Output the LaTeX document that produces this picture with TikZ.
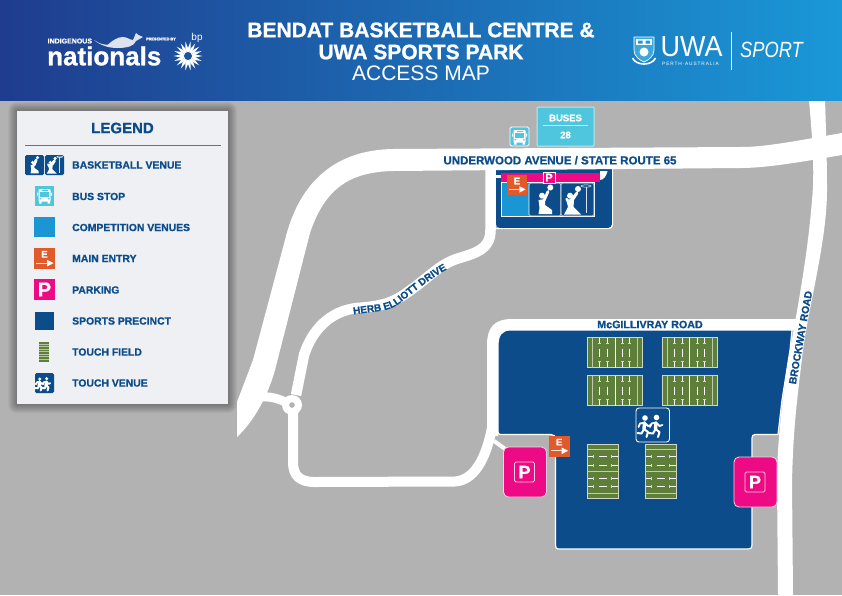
\documentclass[tikz,border=0pt]{standalone}
\usepackage{fontspec}
\usepackage{graphicx}
\usetikzlibrary{decorations.text}
\setmainfont{Liberation Sans}[BoldFeatures={FakeBold=1}]
\definecolor{navy}{HTML}{0D4C8B}
\definecolor{ground}{HTML}{B2B2B2}
\definecolor{compblue}{HTML}{1A96D5}
\definecolor{pinkp}{HTML}{EE0A84}
\definecolor{orangee}{HTML}{E05A2B}
\definecolor{cyanbus}{HTML}{4FC6DE}
\definecolor{turf}{HTML}{5E7F3A}
\definecolor{panel}{HTML}{EEF0F3}
\definecolor{hdl}{HTML}{1F3C8E}
\definecolor{hdr}{HTML}{1A98D7}
\tikzset{
  maplabel/.style={font=\bfseries\fontsize{#1}{#1}\selectfont,text=navy,inner sep=0pt},
  legendtext/.style={font=\bfseries\fontsize{10.4}{11}\selectfont,text=navy,anchor=west,inner sep=0pt},
  headtext/.style={text=white,inner sep=0pt},
  road/.style={draw=white,line width=#1,line cap=butt,line join=round},
  fieldline/.style={draw=white,line width=0.65pt},
  fieldfaint/.style={draw=white!60!turf,line width=0.8pt},
  fieldtick/.style={draw=white!70!turf,line width=0.4pt},
  fig/.style={fill=white,draw=none},
  limb/.style={draw=white,line width=#1,line cap=round,line join=round},
  kneeler/.pic={
    \fill[fig] (21.3,4.5) circle (3);
    \fill[fig] (13,12.7) circle (3);
    \draw[limb=2.8] (15,17.5) -- (19,8.5);
    \fill[fig] (9.5,17) -- (16,16) -- (16,22) -- (23,27) -- (23,31) -- (9.5,31) -- (10.5,25) -- cycle;
  },
  shooter/.pic={
    \fill[fig] (17,6) circle (3);
    \fill[fig] (9,12.7) circle (3);
    \draw[limb=2.8] (12,16) -- (16,10);
    \draw[limb=2.4] (5.5,16) -- (8,19.5) -- (15,11);
    \fill[fig] (5,16) -- (13,17) -- (12.5,24) -- (20,31.5) -- (3,31.5) -- (7,24) -- cycle;
    \draw[white,line width=0.5pt] (25,3) ellipse (5 and 1.2);
    \draw[white!85!navy,line width=0.8pt] (25,4) -- (25,30);
  },
  runners/.pic={
    \fill[fig] (8,10) circle (2.8);
    \fill[fig] (19.5,9.5) circle (2.8);
    \foreach \d in {0,11.5}{
      \begin{scope}[xshift=\d pt]
      \draw[limb=3.4] (7.5,15) -- (7,21);
      \draw[limb=1.8] (7.5,14.5) -- (3,15.5) -- (1.5,19);
      \draw[limb=1.8] (7.5,14.5) -- (11,18) -- (14,17);
      \draw[limb=2] (7,21) -- (11,24) -- (9.5,29);
      \draw[limb=2] (7,21) -- (4.5,25.5) -- (0.5,25);
      \end{scope}}
  },
  busicon/.pic={
    \fill[rounded corners=1pt,fill=white] (4,3) rectangle (16,15.5);
    \fill[cyanbus] (5.5,6) rectangle (14.5,10.5);
    \fill[cyanbus] (7,4) rectangle (13,4.8);
    \fill[cyanbus] (5.7,12.8) circle (0.9) (14.3,12.8) circle (0.9);
    \fill[white] (4.5,15) rectangle (7,17.5) (13,15) rectangle (15.5,17.5);
    \fill[white] (2.5,6.5) rectangle (3.6,9.5) (16.4,6.5) rectangle (17.5,9.5);
  },
  hfield/.pic={
    \fill[turf] (0,0) rectangle (55,30);
    \draw[white!70!turf,line width=0.8pt] (0,0) rectangle (55,30);
    \foreach \x in {5,50}{\draw[fieldfaint] (\x,0) -- (\x,30);}
    \draw[fieldline] (27.5,0) -- (27.5,30);
    \foreach \x in {12,20,35,42}{
      \draw[fieldline] (\x,0.5) -- (\x,6);
      \draw[fieldline] (\x,11) -- (\x,19);
      \draw[fieldline] (\x,24) -- (\x,29.5);
      \draw[fieldtick] (\x-1.5,6) -- (\x+1.5,6) (\x-1.5,24) -- (\x+1.5,24);
    }
  },
  vfield/.pic={
    \fill[turf] (0,0) rectangle (30.5,54);
    \draw[white!70!turf,line width=0.8pt] (0,0) rectangle (30.5,54);
    \foreach \y in {5,27,49}{\draw[fieldfaint] (0,\y) -- (30.5,\y);}
    \foreach \y in {12,21,34,42}{
      \draw[fieldline] (0.5,\y) -- (6,\y);
      \draw[fieldline] (11,\y) -- (19,\y);
      \draw[fieldline] (24,\y) -- (30,\y);
      \draw[fieldtick] (6,\y-1.5) -- (6,\y+1.5) (24,\y-1.5) -- (24,\y+1.5);
    }
  },
  miniturf/.pic={
    \fill[turf] (0,0) rectangle (10,20);
    \foreach \y in {2,4.5,7,9.5,12,14.5,17}{\draw[white!55!turf,line width=0.4pt] (0,\y) -- (10,\y);}
  },
}
% name, x, y, size, letter size
\newcommand\entrysign[5]{%
  \fill[orangee] (#2,#3) rectangle +(#4,#4);
  \node[headtext,font=\bfseries\fontsize{#5}{10}\selectfont] (#1) at (#2+#4*0.5,#3+#4*0.3) {E};
  \draw[white!85!orangee,line width=0.7pt] (#2+#4*0.1,#3+#4*0.72) -- (#2+#4*0.72,#3+#4*0.72);
  \fill[white] (#2+#4*0.62,#3+#4*0.56) -- (#2+#4*0.93,#3+#4*0.72) -- (#2+#4*0.62,#3+#4*0.88) -- cycle;
}
\newcommand\parksign[5]{%
  \fill[pinkp] (#2,#3) rectangle +(#4,#4);
  \node[headtext,font=\bfseries\fontsize{#5}{10}\selectfont] (#1) at (#2+#4*0.5,#3+#4*0.5) {P};
}
\newcommand\bigpark[3]{%
  \filldraw[draw=white!80!pinkp,fill=pinkp,line width=0.8pt,rounded corners=5pt] (#2,#3) rectangle +(43,50);
  \draw[white!80!pinkp,line width=0.8pt,rounded corners=1.5pt] (#2+11,#3+15) rectangle +(20,20);
  \node[headtext,font=\bfseries\fontsize{18}{18}\selectfont] (#1) at (#2+21,#3+25) {P};
}
\begin{document}
\begin{tikzpicture}[x=1pt,y=-1pt]
\useasboundingbox (0,0) rectangle (842,595);
\fill[ground] (0,0) rectangle (842,595);

% ---- basketball centre block (under the road)
\fill[navy,rounded corners=4pt] (496,160) rectangle (612,228);
\draw[white,line width=1.2pt,rounded corners=4pt] (612.6,165) -- (612.6,228.6) -- (496,228.6);

% ---- roads
\fill[white] (237,402) -- (253,360) -- (285,240) .. controls (299,182) and (335,150) .. (393,149)
  -- (740,147) .. controls (765,147) and (790,142) .. (842,133) -- (842,155)
  .. controls (795,163) and (765,168) .. (740,168) -- (393,171)
  .. controls (350,172) and (325,188) .. (310,233) -- (275,370)
  .. controls (268,395) and (255,420) .. (237,437) -- cycle;
\draw[road=10.5] (490.5,170) -- (490.5,230) .. controls (490.5,250) and (475,253) .. (458,258.5)
  .. controls (440,264) and (428,278) .. (412,289) .. controls (395,302) and (385,306) .. (357,308)
  .. controls (330,311) and (312,330) .. (304,355) -- (296,395);
\draw[road=10] (293,405) -- (293,462) .. controls (293,476) and (300,482) .. (315,482) -- (455,481.5) .. controls (478,480) and (488,450) .. (492.5,425);
\draw[road=9] (292,405) .. controls (282,400) and (272,396) .. (262,397);
\fill[white] (292,405) circle (10);
\fill[ground] (292,405) circle (2.8);
% McGillivray
\draw[road=11] (492.5,436) -- (492.5,345) .. controls (492.5,330) and (498,324.5) .. (512,324.5) -- (800,324.5);
\draw[road=4] (494,441) -- (508,451);
% Brockway
\fill[white] (809,100) .. controls (812,135) and (815,170) .. (812,200) .. controls (808,250) and (800,295) .. (790,350) .. controls (783,395) and (777,440) .. (777,483) -- (778,595)
  -- (793,595) -- (792,483) .. controls (793,430) and (797,400) .. (803,350) .. controls (809,305) and (827,240) .. (827,190) .. controls (827,160) and (826,130) .. (825,100) -- cycle;

% ---- precinct south
\filldraw[fill=navy,draw=white,line width=1.2pt] (498,345) .. controls (498,335) and (502,330) .. (510,330) -- (792,330) -- (790,350) -- (782,400) -- (778,434.5) -- (755,434.5) .. controls (753,434.5) and (752,436) .. (752,438) -- (752,545) .. controls (752,548) and (751,549) .. (748,549) -- (560,549) .. controls (556,549) and (555.5,548) .. (555.5,545) -- (555.5,440) .. controls (555.5,436) and (554,434.5) .. (551,434.5) -- (500,434.5) .. controls (498.5,434.5) and (498,433) .. (498,431) -- cycle;
\path (587.5,337.5) pic {hfield} (662,337.5) pic {hfield} (587.5,375.5) pic {hfield} (662,375.5) pic {hfield};
\path (587.5,444.5) pic {vfield} (645.5,444.5) pic {vfield};
\filldraw[fill=navy,draw=white,line width=0.9pt,rounded corners=3pt] (636,408) rectangle (669.5,442);
\path (637,408) pic {runners};
\entrysign{mainE}{549}{436}{20.5}{9.5}
\bigpark{parkW}{503.5}{447}
\bigpark{parkE}{734}{457}

% ---- basketball centre details
\fill[white] (495,175.2) rectangle (501,177.5);
\fill[white] (600,171) -- (607.5,171) .. controls (606.5,176) and (603.5,180) .. (600,180) -- cycle;
\fill[pinkp] (501,173) rectangle (600,182);
\fill[compblue] (501,182) rectangle (529,216);
\draw[white,line width=0.6pt] (501,182) rectangle (594,216);
\filldraw[fill=navy,draw=white,line width=0.6pt,rounded corners=1.5pt] (529,183) rectangle (561,216);
\filldraw[fill=navy,draw=white,line width=0.6pt,rounded corners=1.5pt] (561,183) rectangle (594,216);
\path (529,183) pic {kneeler} (561,183) pic {shooter};
\entrysign{centreE}{507}{175}{20}{9.5}
\filldraw[fill=pinkp,draw=white,line width=0.6pt] (543,172) rectangle (555,183);
\node[headtext,font=\bfseries\fontsize{11}{11}\selectfont] (centreP) at (549,177.5) {P};

% ---- buses
\filldraw[fill=cyanbus,draw=white,line width=0.8pt,rounded corners=1.5pt] (510,127) rectangle (529,146);
\path (509.5,127) pic {busicon};
\filldraw[fill=cyanbus,draw=white!60!cyanbus,line width=1pt,rounded corners=1pt] (537,107) rectangle (594,146);
\node[headtext,font=\bfseries\fontsize{9.5}{10}\selectfont] (busesT) at (565.5,118) {BUSES};
\draw[white!70!cyanbus,line width=0.8pt] (543,125) -- (588,125);
\node[headtext,font=\bfseries\fontsize{9.5}{10}\selectfont] (busesN) at (565.5,135) {28};

% ---- road labels
\node[maplabel=11.5] (underwood) at (560,160.3) {UNDERWOOD AVENUE / STATE ROUTE 65};
\path[decorate,decoration={text along path,text align=center,text color=navy,
   text={|\bfseries\fontsize{10}{10}\selectfont|HERB ELLIOTT DRIVE}}]
   (335,319) .. controls (345,315) and (360,313.5) .. (372,312) .. controls (385,310.5) and (392,309) .. (400,303) .. controls (415,291) and (430,279) .. (445,270.5) .. controls (452,267) and (458,265) .. (465,263);
\node[maplabel=10.7] (mcg) at (650,324.5) {McGILLIVRAY ROAD};
\node[maplabel=10.4,rotate=80] (brock) at (800.5,337.5) {BROCKWAY ROAD};

% ---- header
\shade[left color=hdl,right color=hdr] (0,0) rectangle (842,100);
\node[headtext,font=\bfseries\fontsize{21}{21}\selectfont] (title1) at (421,30) {BENDAT BASKETBALL CENTRE \&};
\node[headtext,font=\bfseries\fontsize{21}{21}\selectfont] (title2) at (421,52) {UWA SPORTS PARK};
\node[headtext,font=\fontsize{21}{21}\selectfont] (title3) at (421,73.5) {ACCESS MAP};
% nationals logo
\node[headtext,font=\bfseries\fontsize{7}{7}\selectfont,anchor=west] (indig) at (47.5,41) {INDIGENOUS};
\node[headtext,font=\bfseries\fontsize{26}{26}\selectfont,anchor=west] (natl) at (47,56) {nationals};
\node[headtext,font=\bfseries\fontsize{3.8}{4}\selectfont,anchor=west] (pres) at (146,39) {PRESENTED BY};
\node[headtext,font=\fontsize{10}{10}\selectfont] (bp) at (197,38) {bp};
\fill[white!85!hdl] (94,40) .. controls (100,44) and (104,45) .. (108,44.5) .. controls (113,40) and (118,37) .. (123,37) .. controls (127,37) and (130,40) .. (133,40) -- (136,33) -- (138.5,35) -- (143,37) -- (136,41) .. controls (134,46) and (128,48) .. (117,48) .. controls (108,48) and (100,45) .. (94,40) -- cycle;
\foreach \a in {0,20,...,340}{
  \fill[white] ({188+14.5*cos(\a)},{56+14.5*sin(\a)}) -- ({188+8*cos(\a+10)},{56+8*sin(\a+10)}) -- (188,56) -- ({188+8*cos(\a-10)},{56+8*sin(\a-10)}) -- cycle;}
\fill[hdl!75!hdr] (188,56) circle (4);
% UWA logo
\filldraw[draw=white,fill=white!15!hdr,line width=0.7pt] (634,37) -- (654,37) -- (654,50) .. controls (654,56) and (649,60) .. (644,62) .. controls (639,60) and (634,56) .. (634,50) -- cycle;
\fill[white] (636,39) rectangle (652,45);
\fill[hdr] (638,40.5) rectangle (642.5,43.5) (645.5,40.5) rectangle (650,43.5);
\fill[white] (644,52) circle (4.5);
\draw[white,line width=1.6pt] (632.5,58) .. controls (636,66) and (652,66) .. (655.5,58);
\node[headtext,font=\fontsize{29}{29}\selectfont,anchor=west] (uwa) at (660.5,47) {\scalebox{0.93}[1]{UWA}};
\node[headtext,font=\fontsize{4.8}{5}\selectfont\addfontfeatures{LetterSpace=18},anchor=west] (perth) at (662,63.5) {PERTH·AUSTRALIA};
\draw[white,line width=0.7pt] (731,32) -- (731,70);
\node[headtext,font=\itshape\fontsize{22}{22}\selectfont,anchor=west] (sport) at (740,50) {\scalebox{0.83}[1]{SPORT}};

% ---- legend
\foreach \i in {9,8,...,1}{
  \fill[black,opacity=0.04,rounded corners=\i pt] (17-\i,111-\i) rectangle (228+\i,404+\i);}
\fill[panel] (17,111) rectangle (228,404);
\node[font=\bfseries\fontsize{15}{15}\selectfont,text=navy,inner sep=0pt] (legendT) at (122.5,128) {LEGEND};
\draw[navy!75!white,line width=0.8pt] (25,145) -- (221,145);
\filldraw[fill=navy,draw=none,rounded corners=1.5pt] (25,155) rectangle (44,175);
\filldraw[fill=navy,draw=none,rounded corners=1.5pt] (45,155) rectangle (64,175);
\path (25,155) pic[scale=0.59] {kneeler} (45,155) pic[scale=0.59] {shooter};
\fill[cyanbus] (35,186) rectangle (54,206);
\path (34.5,186) pic {busicon};
\fill[compblue] (34,217) rectangle (55,237);
\entrysign{legE}{34}{248}{21}{9.5}
\parksign{legP}{34}{279}{21}{20}
\fill[navy] (35,312) rectangle (54,330);
\path (39,342) pic {miniturf};
\fill[navy,rounded corners=1.5pt] (35,373) rectangle (54,393);
\path (35,373) pic[scale=0.6] {runners};
\node[legendtext] (l1) at (72,165) {BASKETBALL VENUE};
\node[legendtext] (l2) at (72,196.5) {BUS STOP};
\node[legendtext] (l3) at (72,227.5) {COMPETITION VENUES};
\node[legendtext] (l4) at (72,258.5) {MAIN ENTRY};
\node[legendtext] (l5) at (72,290) {PARKING};
\node[legendtext] (l6) at (72,321) {SPORTS PRECINCT};
\node[legendtext] (l7) at (72,352) {TOUCH FIELD};
\node[legendtext] (l8) at (72,383) {TOUCH VENUE};
\end{tikzpicture}
\end{document}
